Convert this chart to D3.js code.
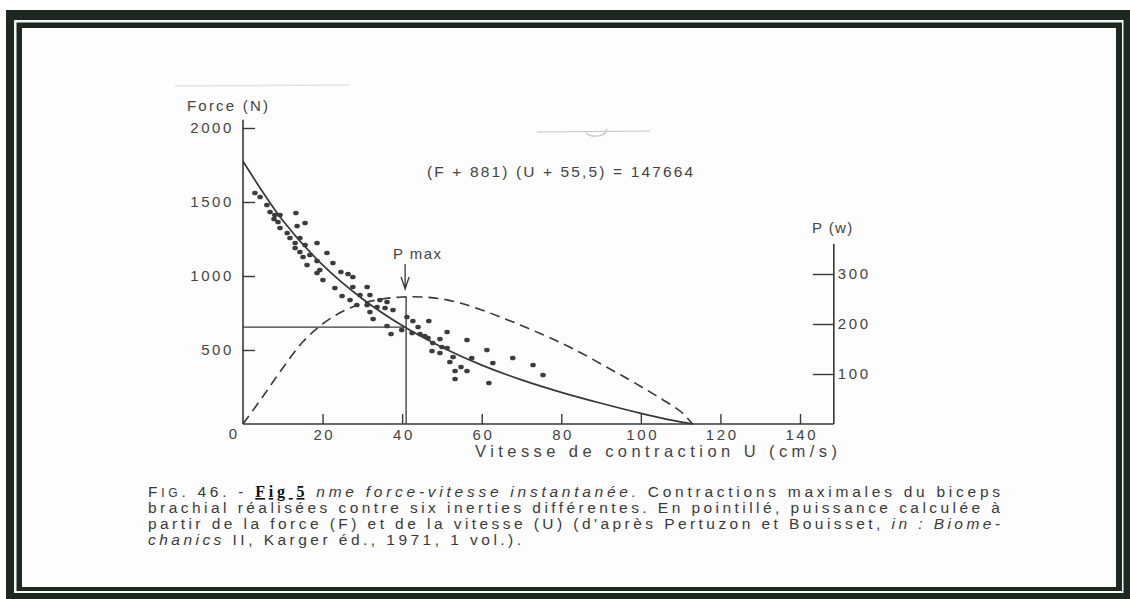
<!DOCTYPE html>
<html>
<head>
<meta charset="utf-8">
<script src="https://cdn.jsdelivr.net/npm/d3@7"></script>
<style>
  html, body { margin: 0; padding: 0; background: #fff; }
  svg text { font-family: "Liberation Sans", Arial, sans-serif; }
</style>
</head>
<body>
<svg id="chart" width="1130" height="599"></svg>
<script>
// Values
var speedU = [0, 10, 20, 30, 40, 50, 60, 70, 80, 90, 100, 108, 113];
var forceF = [1775, 1375, 1075, 846, 665, 519, 398, 298, 214, 140, 72, 24, 0];

var powerU = [0, 5, 10, 15, 20, 25, 30, 35, 40, 45, 50, 55, 60, 65, 70, 75, 80, 85, 90, 95, 100, 105, 110, 113];
var powerP = [0, 55, 112, 164, 200, 225, 241, 250, 254, 254, 250, 241, 228, 213, 197, 180, 162, 142, 120, 98, 75, 51, 25, 0];

// measured contractions (U cm/s, F N)
var trialPoints = [
    [3.0, 1561], [4.3, 1534], [6.0, 1480], [6.8, 1432], [8.0, 1412], [9.3, 1412],
    [7.8, 1385], [8.8, 1365], [13.3, 1426], [15.6, 1358], [13.6, 1338], [9.3, 1324],
    [11.1, 1291], [11.8, 1257], [14.3, 1257], [13.1, 1223], [18.6, 1223], [15.6, 1209],
    [13.1, 1189], [14.3, 1162], [21.1, 1155], [16.8, 1142], [15.1, 1128], [18.6, 1101],
    [16.1, 1074], [22.6, 1088], [19.3, 1041], [18.6, 1020], [20.1, 973], [24.6, 1027],
    [26.4, 1014], [27.6, 993], [23.1, 919], [24.9, 865], [27.6, 926], [29.4, 872],
    [31.2, 926], [31.9, 872], [26.9, 838], [28.6, 804], [31.2, 804], [34.4, 838],
    [36.2, 824], [33.7, 791], [35.7, 784], [31.9, 757], [32.7, 709], [37.7, 770],
    [36.2, 662], [37.2, 608], [39.9, 635], [41.2, 723], [42.7, 696], [44.0, 655],
    [46.7, 696], [44.5, 608], [45.7, 595], [46.5, 581], [47.7, 547], [49.5, 574],
    [51.3, 622], [50.0, 520], [51.3, 514], [47.5, 493], [49.5, 480], [52.8, 453],
    [52.0, 419], [54.8, 385], [53.3, 358], [56.3, 358], [53.3, 304], [56.3, 568],
    [61.3, 500], [62.8, 412], [61.8, 277], [67.8, 446], [72.9, 399], [75.4, 331],
    [57.5, 446], [42.5, 615]
];

var speedTicks = [20, 40, 60, 80, 100, 120, 140];
var forceTicks = [500, 1000, 1500, 2000];
var powerTicks = [100, 200, 300];

var pmaxU = 41, pmaxF = 655, pmaxP = 254;

var captionLines = [
    [["F", ""], ["IG", "sc"], [". 46.  -  ", ""], ["Fig 5", "fig"], ["  nme force-vitesse instantanée.", "it"], [" Contractions maximales du biceps", ""]],
    [["brachial réalisées contre six inerties différentes. En pointillé, puissance calculée à", ""]],
    [["partir de la force (F) et de la vitesse (U) (d'après Pertuzon et Bouisset, ", ""], ["in : Biome-", "it"]],
    [["chanics", "it"], [" II, Karger éd., 1971, 1 vol.).", ""]]
];

var svg = d3.select("#chart");
var ink = "#383838",
    textInk = "#444",
    frameInk = "#1d2820";

// Scanned frame
svg.append("rect").attr("x", 0).attr("y", 0).attr("width", 1130).attr("height", 599).attr("fill", "#fff");
svg.append("rect").attr("x", 6).attr("y", 10).attr("width", 1124).attr("height", 589).attr("fill", frameInk);
svg.append("rect").attr("x", 14).attr("y", 20).attr("width", 1109.5).attr("height", 573).attr("fill", "#f4f6f4");
svg.append("rect").attr("x", 16.5).attr("y", 22.5).attr("width", 1105.5).attr("height", 568.5).attr("fill", frameInk);
svg.append("rect").attr("x", 22).attr("y", 28).attr("width", 1094).attr("height", 559).attr("fill", "#fdfdfd");

// faint scan marks
svg.append("line").attr("x1", 175).attr("x2", 350).attr("y1", 86).attr("y2", 85)
    .attr("stroke", "#e2e2e2").attr("stroke-width", 1.5);
svg.append("path").attr("d", "M537,132 L650,131 M585,131 q3,6 12,5 q8,0 10,-7")
    .attr("fill", "none").attr("stroke", "#c4c4c4").attr("stroke-width", 1.2);

// Scales
var x = d3.scaleLinear().domain([0, 140]).range([243, 800]);
var yF = d3.scaleLinear().domain([0, 2000]).range([424, 128]);
var yP = d3.scaleLinear().domain([0, 300]).range([424, 274]);

var uMax = 148.5;

var g = svg.append("g");

// Axis lines
g.append("line").attr("x1", x(0)).attr("x2", x(uMax)).attr("y1", yF(0)).attr("y2", yF(0))
    .attr("stroke", ink).attr("stroke-width", 1.6);
g.append("line").attr("x1", x(0)).attr("x2", x(0)).attr("y1", yF(0)).attr("y2", yF(2055))
    .attr("stroke", ink).attr("stroke-width", 1.6);
g.append("line").attr("x1", x(uMax)).attr("x2", x(uMax)).attr("y1", yP(0)).attr("y2", yP(360))
    .attr("stroke", ink).attr("stroke-width", 1.6);

function styleAxis(sel) {
    sel.select(".domain").remove();
    sel.selectAll(".tick line").attr("stroke", ink).attr("stroke-width", 1.4);
    sel.selectAll(".tick text")
        .attr("fill", textInk)
        .style("font-size", "15px")
        .style("letter-spacing", "2.6px");
}

var xAxis = g.append("g").attr("transform", "translate(0," + yF(0) + ")")
    .call(d3.axisBottom(x).tickValues(speedTicks).tickFormat(d3.format("d"))
        .tickSizeInner(-10).tickSizeOuter(0).tickPadding(5));
styleAxis(xAxis);
xAxis.selectAll(".tick text").attr("dx", "1.3px");

g.append("text").attr("x", x(0) - 10).attr("y", 439).attr("text-anchor", "middle")
    .attr("fill", textInk).style("font-size", "15px").text("0");

var leftAxis = g.append("g").attr("transform", "translate(" + x(0) + ",0)")
    .call(d3.axisLeft(yF).tickValues(forceTicks).tickFormat(d3.format("d"))
        .tickSizeInner(-12).tickSizeOuter(0).tickPadding(9));
styleAxis(leftAxis);

var rightAxis = g.append("g").attr("transform", "translate(" + x(uMax) + ",0)")
    .call(d3.axisRight(yP).tickValues(powerTicks).tickFormat(d3.format("d"))
        .tickSizeInner(-21).tickSizeOuter(0).tickPadding(4));
styleAxis(rightAxis);

// Axis titles and annotations
g.append("text").attr("x", 187).attr("y", 111).attr("fill", textInk)
    .style("font-size", "15px").style("letter-spacing", "2.2px").text("Force (N)");
g.append("text").attr("x", 812).attr("y", 233).attr("fill", textInk)
    .style("font-size", "15px").style("letter-spacing", "1.4px").text("P (w)");
g.append("text").attr("x", 475).attr("y", 457).attr("fill", textInk)
    .attr("textLength", 362).attr("lengthAdjust", "spacing")
    .style("font-size", "16.5px").text("Vitesse de contraction U (cm/s)");
g.append("text").attr("x", 427).attr("y", 177).attr("fill", textInk)
    .attr("textLength", 266).attr("lengthAdjust", "spacing")
    .style("font-size", "15.5px").text("(F + 881)  (U + 55,5) = 147664");

// Pmax guides
g.append("line").attr("x1", x(0)).attr("x2", x(pmaxU)).attr("y1", yF(pmaxF)).attr("y2", yF(pmaxF))
    .attr("stroke", ink).attr("stroke-width", 1.3);
g.append("line").attr("x1", x(pmaxU)).attr("x2", x(pmaxU)).attr("y1", yP(pmaxP)).attr("y2", yF(0))
    .attr("stroke", ink).attr("stroke-width", 1.3);

g.append("text").attr("x", x(pmaxU) - 13).attr("y", 259).attr("fill", textInk)
    .style("font-size", "15px").style("letter-spacing", "1.4px").text("P max");
var ax = x(pmaxU) - 1;
g.append("path")
    .attr("d", "M" + ax + ",264 L" + ax + ",288 M" + (ax - 4) + ",277 L" + ax + ",289 L" + (ax + 4) + ",277")
    .attr("fill", "none").attr("stroke", ink).attr("stroke-width", 1.3);

// Power curve (dashed)
var powerLine = d3.line()
    .x(function (d, i) { return x(powerU[i]); })
    .y(function (d) { return yP(d); })
    .curve(d3.curveCatmullRom.alpha(0.5));
g.append("path").datum(powerP).attr("d", powerLine)
    .attr("fill", "none").attr("stroke", ink).attr("stroke-width", 1.6)
    .attr("stroke-dasharray", "10,6");

// Force-velocity curve
var forceLine = d3.line()
    .x(function (d, i) { return x(speedU[i]); })
    .y(function (d) { return yF(d); })
    .curve(d3.curveCatmullRom.alpha(0.5));
g.append("path").datum(forceF).attr("d", forceLine)
    .attr("fill", "none").attr("stroke", ink).attr("stroke-width", 1.7);

// Dots
g.selectAll(".dot").data(trialPoints).enter().append("ellipse")
    .attr("class", "dot")
    .attr("cx", function (d) { return x(d[0]); })
    .attr("cy", function (d) { return yF(d[1]); })
    .attr("rx", 2.8).attr("ry", 2.3)
    .attr("fill", "#3c3c3c");

// Caption
var capX = 148, capRight = 1000, capY = [497, 513, 529, 545];
var cap = svg.append("g").attr("fill", "#3a3a3a").style("font-size", "15.5px");
captionLines.forEach(function (parts, li) {
    var t = cap.append("text").attr("x", capX).attr("y", capY[li]);
    parts.forEach(function (p) {
        var s = t.append("tspan").text(p[0]);
        if (p[1] === "it") s.style("font-style", "italic");
        if (p[1] === "sc") s.style("font-size", "12px");
        if (p[1] === "fig") {
            s.style("font-family", "'Liberation Serif', 'DejaVu Serif', serif")
                .style("font-weight", "bold").style("font-size", "16px")
                .style("text-decoration", "underline").attr("fill", "#111");
        }
    });
    if (li < 3) {
        t.attr("textLength", capRight - capX).attr("lengthAdjust", "spacing");
    }
});
// last line keeps roughly the same spacing as the full lines
var capNodes = cap.selectAll("text").nodes();
var line2 = capNodes[1];
line2.removeAttribute("textLength");
var nat2 = line2.getComputedTextLength();
line2.setAttribute("textLength", capRight - capX);
var line4 = capNodes[3];
var nat4 = line4.getComputedTextLength();
line4.setAttribute("textLength", nat4 * (capRight - capX) / nat2);
line4.setAttribute("lengthAdjust", "spacing");
</script>
</body>
</html>
